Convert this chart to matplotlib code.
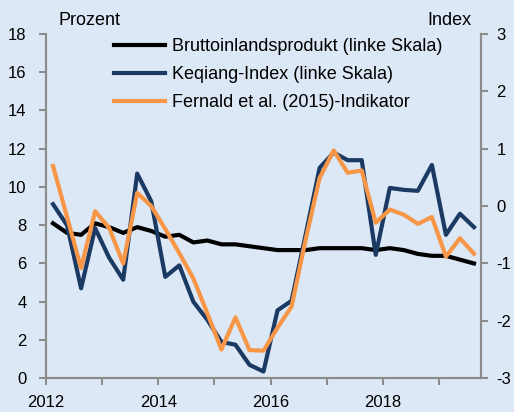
import matplotlib.pyplot as plt
from matplotlib.ticker import MultipleLocator

plt.rcParams['font.family'] = ['Liberation Sans', 'DejaVu Sans']
plt.rcParams['axes.unicode_minus'] = False

# quartalsdaten 2012Q1 - 2019Q3
years = list(range(2012, 2020))
quarters = [y + (q - 0.5) / 4 for y in years for q in range(1, 5)][:31]

# BIP-wachstum (linke skala)
gdp = [8.1, 7.6, 7.5, 8.1, 7.9, 7.6, 7.9, 7.7,
       7.4, 7.5, 7.1, 7.2, 7.0, 7.0, 6.9, 6.8,
       6.7, 6.7, 6.7, 6.8, 6.8, 6.8, 6.8, 6.7,
       6.8, 6.7, 6.5, 6.4, 6.4, 6.2, 6.0]

# keqiang-index (linke skala)
keqiang = [9.1, 8.0, 4.7, 7.85, 6.3, 5.15, 10.7, 9.25,
           5.3, 5.9, 4.0, 3.05, 1.9, 1.75, 0.7, 0.35,
           3.55, 4.05, 7.5, 11.0, 11.8, 11.4, 11.4, 6.45,
           9.95, 9.85, 9.8, 11.15, 7.5, 8.6, 7.9]

# fernald-indikator (rechte skala)
fernald = [0.70, -0.19, -1.08, -0.09, -0.38, -1.0, 0.23, 0.0,
           -0.40, -0.82, -1.26, -1.87, -2.5, -1.94, -2.51, -2.52,
           -2.12, -1.75, -0.59, 0.49, 0.97, 0.58, 0.62, -0.29,
           -0.06, -0.15, -0.31, -0.19, -0.88, -0.56, -0.83]

bg = '#dce8f6'
navy = '#1b3a63'
orange = '#f79646'
grey = '#8c8c8c'

fig = plt.figure(figsize=(5.14, 4.12), dpi=100, facecolor=bg)
ax = fig.add_axes([0.0895, 0.082, 0.8463, 0.8355], facecolor=bg)
ax2 = ax.twinx()

l1, = ax.plot(quarters, gdp, color='black', lw=3, label='Bruttoinlandsprodukt (linke Skala)')
l2, = ax.plot(quarters, keqiang, color=navy, lw=3, label='Keqiang-Index (linke Skala)')
l3, = ax2.plot(quarters, fernald, color=orange, lw=3, label='Fernald et al. (2015)-Indikator')

ax.set_xlim(2012, 2019.75)
ax.set_ylim(0, 18)
ax2.set_ylim(-3, 3)
ax.yaxis.set_major_locator(MultipleLocator(2))
ax2.yaxis.set_major_locator(MultipleLocator(1))
ax.set_xticks(years)
ax.set_xticklabels([str(y) if y % 2 == 0 else '' for y in years])

for a in (ax, ax2):
    a.spines['top'].set_visible(False)
    for s in ('left', 'right', 'bottom'):
        a.spines[s].set_color(grey)
        a.spines[s].set_linewidth(1.5)
    a.tick_params(colors=grey, labelcolor='black', labelsize=12, width=1.5, length=5)
ax.tick_params(axis='y', pad=9)
ax2.tick_params(axis='y', pad=6)
ax.tick_params(axis='x', pad=7)

fig.text(0.113, 0.94, 'Prozent', fontsize=13)
fig.text(0.918, 0.94, 'Index', fontsize=13, ha='right')

ax.legend(handles=[l1, l2, l3], loc='upper left', bbox_to_anchor=(0.222, 0.908),
          bbox_transform=fig.transFigure, frameon=False, fontsize=13,
          handlelength=2.8, handletextpad=0.4, labelspacing=0.62, borderaxespad=0,
          borderpad=0)

fig.savefig('out.png', dpi=100, facecolor=bg)
